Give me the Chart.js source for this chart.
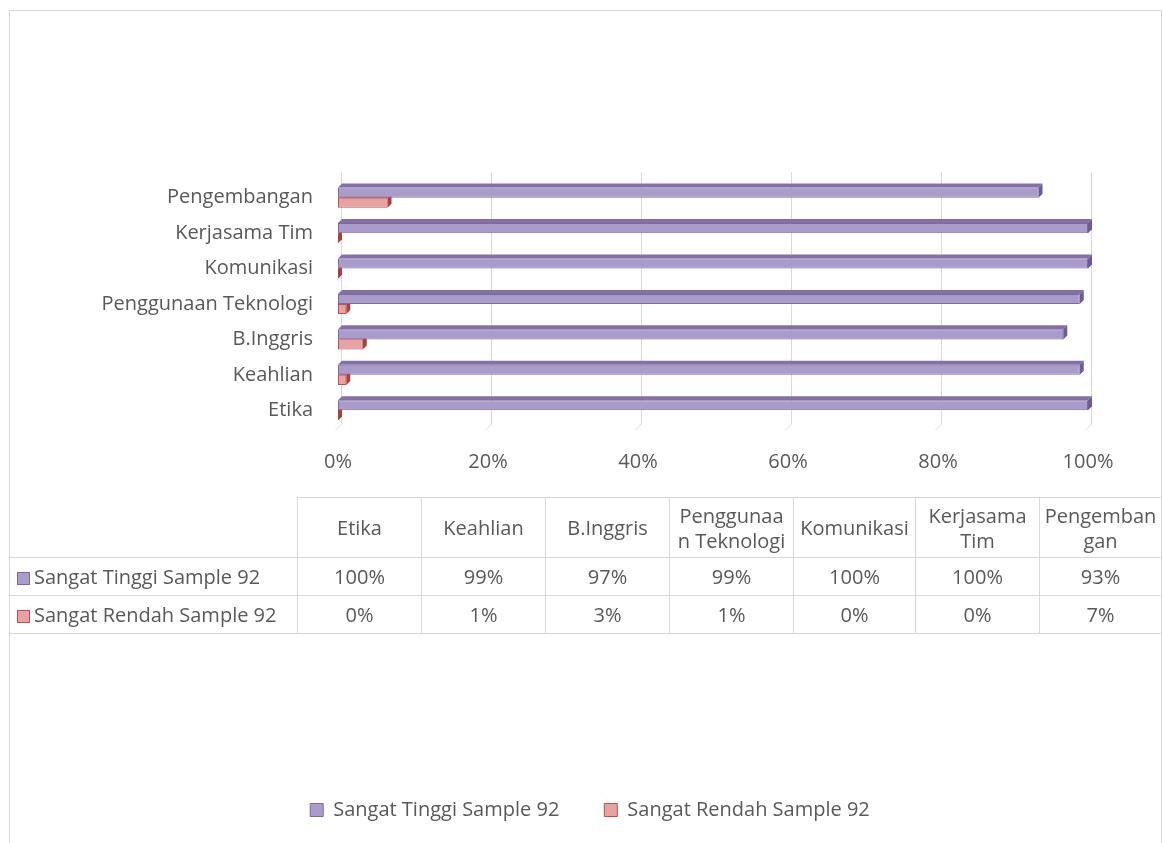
<!DOCTYPE html>
<html>
<head>
<meta charset="utf-8">
<script src="https://cdn.jsdelivr.net/npm/chart.js@4.4.1/dist/chart.umd.min.js"></script>
<style>
  body { margin: 0; background: #fff; font-family: 'Open Sans', sans-serif; color: #595959; }
  #wrap { position: relative; width: 1163px; height: 843px; overflow: hidden; }
  #frame { position: absolute; left: 9px; top: 10px; width: 1151px; height: 840px; border: 1px solid #d9d9d9; border-bottom: none; }
  #chart { position: absolute; left: 0; top: 0; }
  #dataTable { position: absolute; left: 9px; top: 497px; border-collapse: collapse; table-layout: fixed; font-size: 20px; }
  #dataTable td { border: 1px solid #d9d9d9; text-align: center; padding: 0; white-space: pre-line; line-height: 25px; }
  #dataTable tr.head td { height: 59px; }
  #dataTable tr.row td { height: 37px; }
  #dataTable td.corner { border-top: none; }
  #dataTable td.name { text-align: left; padding-left: 7px; white-space: nowrap; }
  .key { display: inline-block; width: 11px; height: 11px; border: 1px solid; margin-right: 4px; vertical-align: -1px; }
</style>
</head>
<body>
<div id="wrap">
  <div id="frame"></div>
  <canvas id="chart" width="1163" height="843"></canvas>
  <table id="dataTable"></table>
</div>
<script>
const categories = ['Etika', 'Keahlian', 'B.Inggris', 'Penggunaan Teknologi', 'Komunikasi', 'Kerjasama Tim', 'Pengembangan'];
// header cells of the data table, wrapped the way the cells wrap them
const tableHeads = ['Etika', 'Keahlian', 'B.Inggris', 'Penggunaa\nn Teknologi', 'Komunikasi', 'Kerjasama\nTim', 'Pengemban\ngan'];
const seriesNames = ['Sangat Tinggi Sample 92', 'Sangat Rendah Sample 92'];
// shares of the 92 answers, the table shows them rounded
const sangatTinggi = [100, 98.9, 96.7, 98.9, 100, 100, 93.4];
const sangatRendah = [0, 1.1, 3.3, 1.1, 0, 0, 6.6];
const xTicks = [0, 20, 40, 60, 80, 100];

const textColor = '#595959';
const frontColors = ['#aa9cca', '#e6a3a2'];
const edgeColors = ['#7e6aa1', '#c0504d'];
const topColors = ['#8470a6', '#c65a57'];
const sideColors = ['#6f5b93', '#a9403d'];
const depth = 4;

// back wall grid lines and the top/side faces of the 3D bars
const faces3d = {
    id: 'faces3d',
    beforeDatasetsDraw(chart) {
        const { ctx, chartArea, scales: { x } } = chart;
        ctx.save();
        ctx.strokeStyle = '#d9d9d9';
        ctx.lineWidth = 1;
        xTicks.forEach(v => {
            const px = Math.round(x.getPixelForValue(v)) + 3.5;
            ctx.beginPath();
            ctx.moveTo(px, chartArea.top - 8);
            ctx.lineTo(px, chartArea.bottom - 4);
            ctx.lineTo(px - 6, chartArea.bottom + 2);
            ctx.stroke();
        });

        chart.data.datasets.forEach((ds, i) => {
            const meta = chart.getDatasetMeta(i);
            meta.data.forEach(bar => {
                const { x: xe, y, base, height } = bar.getProps(['x', 'y', 'base', 'height'], true);
                const top = y - height / 2;
                const bottom = y + height / 2;
                const x0 = Math.min(base, xe);
                const x1 = Math.max(base, xe);

                ctx.fillStyle = topColors[i];
                ctx.beginPath();
                ctx.moveTo(x0, top);
                ctx.lineTo(x0 + depth, top - depth);
                ctx.lineTo(x1 + depth, top - depth);
                ctx.lineTo(x1, top);
                ctx.closePath();
                ctx.fill();

                ctx.fillStyle = sideColors[i];
                ctx.beginPath();
                ctx.moveTo(x1, top);
                ctx.lineTo(x1 + depth, top - depth);
                ctx.lineTo(x1 + depth, bottom - depth);
                ctx.lineTo(x1, bottom);
                ctx.closePath();
                ctx.fill();
            });
        });
        ctx.restore();
    }
};

const font = { family: '"Open Sans", sans-serif', size: 20 };

new Chart(document.getElementById('chart').getContext('2d'), {
    type: 'bar',
    data: {
        labels: categories,
        datasets: [
            {
                label: seriesNames[0],
                data: sangatTinggi,
                backgroundColor: frontColors[0],
                borderColor: edgeColors[0],
                borderWidth: 1,
                borderSkipped: false,
                categoryPercentage: 0.57,
                barPercentage: 1
            },
            {
                label: seriesNames[1],
                data: sangatRendah,
                backgroundColor: frontColors[1],
                borderColor: edgeColors[1],
                borderWidth: 1,
                borderSkipped: false,
                categoryPercentage: 0.57,
                barPercentage: 1
            }
        ]
    },
    options: {
        indexAxis: 'y',
        responsive: false,
        animation: false,
        layout: {
            padding: { top: 180, left: 92, right: 75, bottom: 13 }
        },
        scales: {
            x: {
                min: 0,
                max: 100,
                afterFit: scale => { scale.height = 327; },
                afterBuildTicks: scale => { scale.ticks = xTicks.map(v => ({ value: v })); },
                grid: { display: false, drawTicks: false },
                border: { display: false },
                ticks: {
                    callback: v => v + '%',
                    padding: 22,
                    color: textColor,
                    font: font,
                    maxRotation: 0
                }
            },
            y: {
                reverse: true,
                afterFit: scale => { scale.width = 246; },
                grid: { display: false, drawTicks: false },
                border: { display: false },
                ticks: {
                    padding: 25,
                    color: textColor,
                    font: font
                }
            }
        },
        plugins: {
            legend: {
                position: 'bottom',
                labels: {
                    boxWidth: 13,
                    boxHeight: 13,
                    padding: 45,
                    color: textColor,
                    font: font
                }
            },
            tooltip: { enabled: false }
        }
    },
    plugins: [faces3d]
});

// data table under the axis
const table = document.getElementById('dataTable');
const colWidths = [288, 124, 124, 124, 124, 122, 124, 122];
const colgroup = document.createElement('colgroup');
colWidths.forEach(w => {
    const col = document.createElement('col');
    col.style.width = w + 'px';
    colgroup.appendChild(col);
});
table.appendChild(colgroup);

const head = document.createElement('tr');
head.className = 'head';
const corner = document.createElement('td');
corner.className = 'corner';
head.appendChild(corner);
tableHeads.forEach(h => {
    const td = document.createElement('td');
    td.textContent = h;
    head.appendChild(td);
});
table.appendChild(head);

[sangatTinggi, sangatRendah].forEach((values, i) => {
    const tr = document.createElement('tr');
    tr.className = 'row';
    const name = document.createElement('td');
    name.className = 'name';
    const key = document.createElement('span');
    key.className = 'key';
    key.style.background = frontColors[i];
    key.style.borderColor = edgeColors[i];
    name.appendChild(key);
    name.appendChild(document.createTextNode(seriesNames[i]));
    tr.appendChild(name);
    values.forEach(v => {
        const td = document.createElement('td');
        td.textContent = Math.round(v) + '%';
        tr.appendChild(td);
    });
    table.appendChild(tr);
});
</script>
</body>
</html>
